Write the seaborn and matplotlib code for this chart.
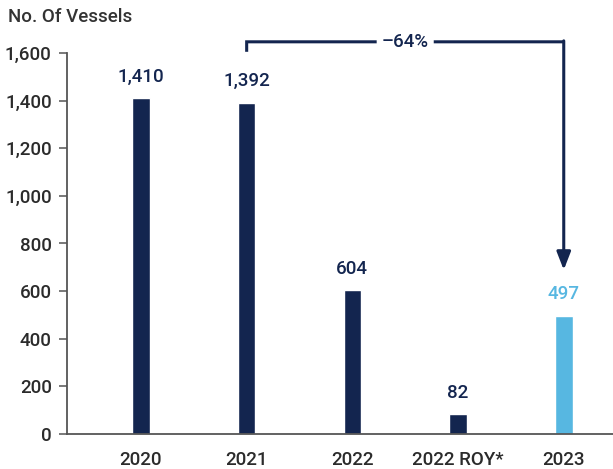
import matplotlib
matplotlib.use("Agg")
import matplotlib.pyplot as plt
import seaborn as sns
import pandas as pd

categories = ["2020", "2021", "2022", "2022 ROY*", "2023"]
vessels = [1410, 1392, 604, 82, 497]
value_labels = ["1,410", "1,392", "604", "82", "497"]
y_ticks = [0, 200, 400, 600, 800, 1000, 1200, 1400, 1600]
y_tick_labels = ["0", "200", "400", "600", "800", "1,000", "1,200", "1,400", "1,600"]
change_label = "\u201364%"

NAVY = "#13254f"
LIGHT = "#57b7e1"
GREY = "#2b2b2b"
FS = 13.5

sns.set_theme(style="white")
plt.rcParams["font.family"] = ["Roboto", "DejaVu Sans"]

df = pd.DataFrame({"year": categories, "vessels": vessels})
palette = [NAVY, NAVY, NAVY, NAVY, LIGHT]

fig = plt.figure(figsize=(6.13, 4.69), dpi=100)
ax = fig.add_axes([67 / 613, 1 - 434 / 469, 1 - 67 / 613, (434 - 53) / 469])

sns.barplot(data=df, x="year", y="vessels", hue="year", palette=palette,
            legend=False, width=0.167, ax=ax, saturation=1)

ax.set_xlim(-0.70, 4.466)
ax.set_ylim(0, 1600)
ax.set_yticks(y_ticks)
ax.set_yticklabels(y_tick_labels)
ax.set_xlabel("")
ax.set_ylabel("")

for side in ["top", "right"]:
    ax.spines[side].set_visible(False)
for side in ["left", "bottom"]:
    ax.spines[side].set_color("#555555")
    ax.spines[side].set_linewidth(1.3)

ax.tick_params(axis="y", which="major", length=6, width=1.1, color="#555555",
               left=True, labelsize=FS, labelcolor=GREY, pad=5)
ax.tick_params(axis="x", which="major", length=0, labelsize=FS,
               labelcolor=GREY, pad=12)
for lab in ax.get_xticklabels() + ax.get_yticklabels():
    lab.set_fontweight("medium")

for i, (v, lab) in enumerate(zip(vessels, value_labels)):
    ax.annotate(lab, (i, v), xytext=(0, 9), textcoords="offset points",
                ha="center", va="bottom", fontsize=FS, fontweight="medium",
                color=LIGHT if i == 4 else NAVY)

# bracket with arrow from 2021 to 2023
y_top = 1647
line_kw = dict(color=NAVY, lw=2.2, clip_on=False, solid_capstyle="butt",
               solid_joinstyle="miter", snap=False)
ax.plot([1, 1, 2.23], [1605, y_top, y_top], **line_kw)
ax.plot([2.77, 4], [y_top, y_top], **line_kw)
ax.annotate("", xy=(4, 689), xytext=(4, y_top + 4),
            arrowprops=dict(arrowstyle="-|>,head_length=0.9,head_width=0.35",
                            color=NAVY, lw=2.2, shrinkA=0, shrinkB=0),
            annotation_clip=False)
ax.text(2.5, y_top, change_label, ha="center", va="center", fontsize=FS,
        fontweight="medium", color=NAVY)

fig.text(8 / 613, 1 - 17 / 469, "No. Of Vessels", ha="left", va="center",
         fontsize=FS, fontweight="medium", color="#333333")

fig.savefig("out.png", dpi=100)
